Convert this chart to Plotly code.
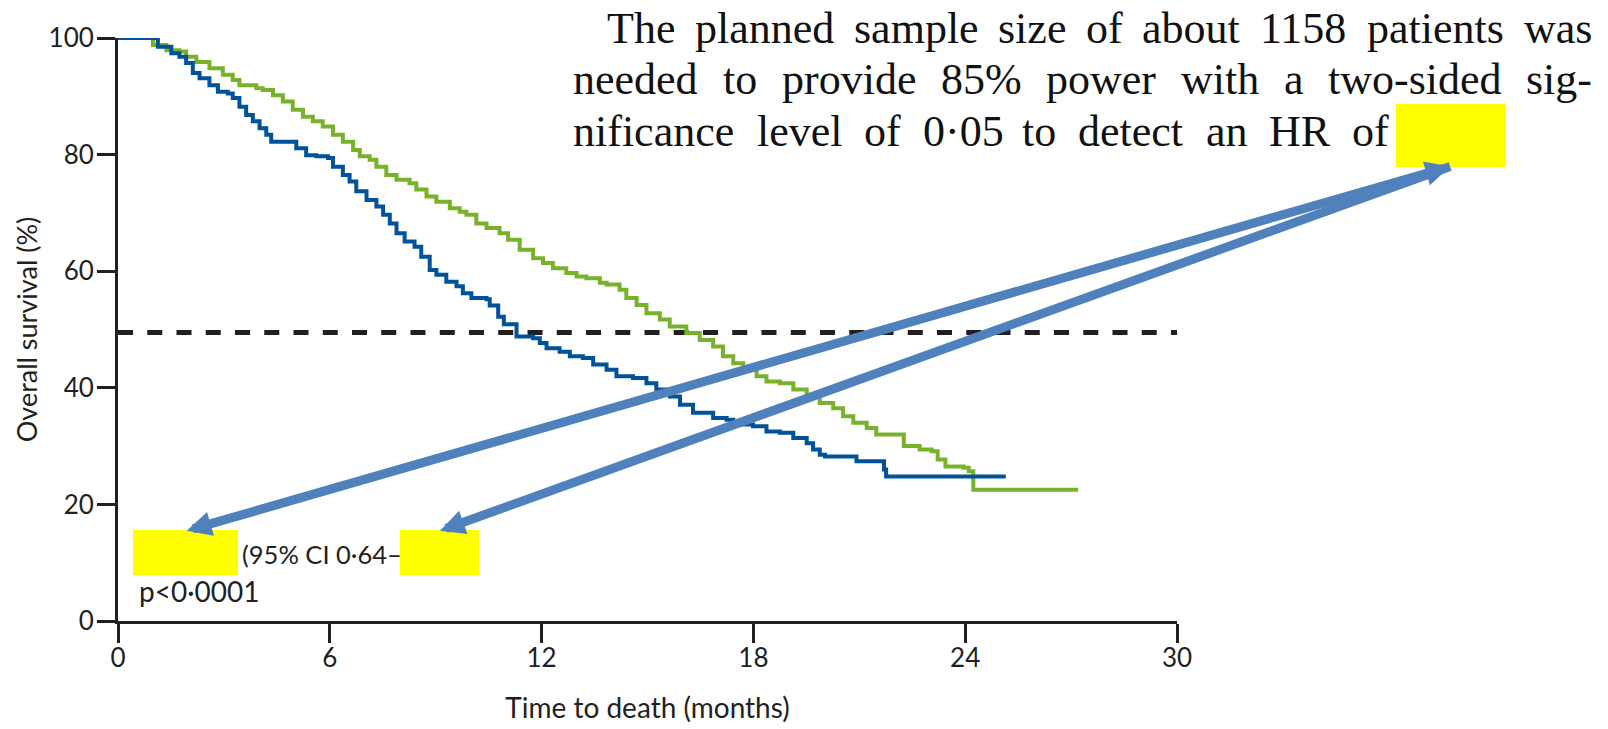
import plotly.graph_objects as go

# ---------------- data ----------------
blue_t = [0, 0.85, 1.13, 1.51, 1.74, 1.93, 2.12, 2.31, 2.59, 2.83, 3.11, 3.25, 3.44, 3.63,
          3.82, 4.01, 4.20, 4.34, 5.05, 5.33, 5.62, 5.95, 6.09, 6.37, 6.56, 6.75, 7.04,
          7.32, 7.51, 7.70, 7.89, 8.12, 8.40, 8.59, 8.83, 9.02, 9.30, 9.59, 9.77, 10.01,
          10.44, 10.53, 10.77, 10.93, 11.29, 11.76, 11.95, 12.14, 12.51, 12.80, 13.17,
          13.46, 13.84, 14.12, 14.59, 14.97, 15.25, 15.63, 15.92, 16.29, 16.86, 17.24,
          17.43, 17.99, 18.37, 18.75, 19.13, 19.51, 19.69, 19.88, 20.03, 20.92, 21.70,
          21.76, 25.15]
blue_s = [100, 100, 98.5, 97.4, 96.8, 95.7, 94.0, 93.1, 91.9, 90.8, 90.5, 89.7, 88.2, 86.8,
          85.7, 84.5, 83.4, 82.2, 81.1, 79.9, 79.7, 79.4, 77.9, 76.5, 75.4, 73.7, 72.2,
          71.1, 69.7, 68.2, 66.5, 65.1, 64.2, 62.5, 60.2, 59.4, 58.2, 57.4, 56.2, 55.4,
          55.2, 54.1, 52.2, 50.9, 48.8, 48.5, 47.7, 46.8, 46.2, 45.4, 45.1,
          44.0, 43.1, 42.0, 41.7, 40.8, 39.7, 38.5, 37.1, 35.7, 34.8, 34.5,
          33.7, 33.4, 32.5, 32.3, 31.4, 30.5, 29.4, 28.5, 28.2, 27.4, 26.0,
          24.8, 24.8]

green_t = [0, 0.66, 0.99, 1.37, 1.74, 1.93, 2.22, 2.59, 2.97, 3.25, 3.44, 3.92, 4.10, 4.39,
           4.67, 4.95, 5.24, 5.52, 5.80, 6.09, 6.37, 6.66, 6.85, 7.13, 7.32, 7.60, 7.89,
           8.26, 8.45, 8.74, 9.02, 9.40, 9.68, 9.87, 10.15, 10.44, 10.81, 11.05, 11.38,
           11.76, 12.04, 12.32, 12.70, 12.99, 13.27, 13.65, 13.84, 14.21, 14.40, 14.69,
           14.97, 15.35, 15.63, 16.10, 16.48, 16.86, 17.14, 17.43, 17.71, 18.09, 18.37,
           18.75, 19.13, 19.51, 19.88, 20.26, 20.54, 20.83, 21.21, 21.48, 22.26, 22.71,
           23.05, 23.22, 23.44, 23.95, 24.10, 24.23, 27.20]
green_s = [100, 100, 98.8, 97.9, 97.7, 96.8, 95.9, 94.8, 93.7, 92.8, 91.9, 91.4, 91.1, 90.2,
           89.1, 87.7, 86.5, 85.7, 84.8, 83.4, 82.2, 80.8, 79.7, 79.1, 77.9, 76.5, 75.7,
           75.1, 74.0, 72.8, 71.9, 70.8, 70.2, 69.7, 68.2, 67.4, 66.5, 65.4, 63.7,
           62.2, 61.4, 60.5, 59.7, 59.1, 58.8, 58.0, 57.7, 56.8, 55.4, 54.2,
           52.8, 51.7, 50.5, 49.4, 48.2, 47.1, 45.4, 44.2, 43.1, 42.0, 41.1,
           40.8, 39.7, 38.8, 37.4, 36.5, 35.1, 34.0, 33.1, 32.0, 30.0, 29.4,
           29.1, 27.7, 26.5, 26.3, 25.7, 22.5, 22.5]

x_ticks = [0, 6, 12, 18, 24, 30]
y_ticks = [0, 20, 40, 60, 80, 100]
x_range = [0, 30]
y_range = [0, 100]
median_level = 49.5
median_line_x = [0, 30.25]

x_title = "Time to death (months)"
y_title = "Overall survival (%)"
paragraph_lines = [
    ["The", "planned", "sample", "size", "of", "about", "1158", "patients", "was"],
    ["needed", "to", "provide", "85%", "power", "with", "a", "two-sided", "sig-"],
    ["nificance", "level", "of", "0·05", "to", "detect", "an", "HR", "of"],
]
ci_text = "(95% CI 0·64–"
p_text = "p<0·0001"

# ---------------- layout helpers ----------------
W, H = 1608, 729
L, R, T, B = 118, 1177, 38, 621

def px(X):
    return (X - L) / (R - L)

def py(Y):
    return (B - Y) / (B - T)

BLUE = "#00529B"
GREEN = "#78B22A"
ARROW = "#4F81BD"
INK = "#231F20"
SERIF = "Liberation Serif"
SANS = "Lato"

fig = go.Figure()
# dashed median line
fig.add_trace(go.Scatter(x=median_line_x, y=[median_level] * len(median_line_x), mode="lines",
                         line=dict(color=INK, width=5, dash="15px,14.25px"),
                         cliponaxis=False, showlegend=False, hoverinfo="skip"))
fig.add_trace(go.Scatter(x=green_t, y=green_s, mode="lines", line=dict(color=GREEN, width=4, shape="hv"),
                         cliponaxis=False, showlegend=False, hoverinfo="skip"))
fig.add_trace(go.Scatter(x=blue_t, y=blue_s, mode="lines", line=dict(color=BLUE, width=4, shape="hv"),
                         cliponaxis=False, showlegend=False, hoverinfo="skip"))

shapes = []
# yellow highlight boxes
for (x0, y0, x1, y1) in [(1396, 104, 1506, 167), (133, 530, 238, 575), (400, 530, 479, 575)]:
    shapes.append(dict(type="rect", xref="paper", yref="paper", x0=px(x0), x1=px(x1), y0=py(y1), y1=py(y0),
                       fillcolor="#FFFF00", line=dict(width=0), layer="above"))

# Times/Liberation Serif advance widths (per 1000 em) for justification
TW = {' ': 250, '%': 833, '-': 333, '·': 250, 'H': 722, 'R': 667, 'T': 611,
      'a': 444, 'b': 500, 'c': 444, 'd': 500, 'e': 444, 'f': 333, 'g': 500, 'h': 500, 'i': 278,
      'l': 278, 'm': 778, 'n': 500, 'o': 500, 'p': 500, 'r': 333, 's': 389, 't': 278, 'u': 500,
      'v': 500, 'w': 722, 'z': 444}

def tw(word, size):
    return sum(TW.get(c, 500) for c in word) / 1000.0 * size

FS = 44
line_specs = [(606.7, 1592, 43.5), (573.3, 1592, 94.0), (573.3, 1389, 146.7)]
annotations = []
for words, (xs, xe, base) in zip(paragraph_lines, line_specs):
    widths = [tw(w, FS) for w in words]
    gap = (xe - xs - sum(widths)) / (len(words) - 1)
    xcur = xs
    for w, wd in zip(words, widths):
        annotations.append(dict(text=w, x=px(xcur - 2), y=py(base - 15), xref="paper", yref="paper",
                                xanchor="left", yanchor="middle", showarrow=False,
                                font=dict(family=SERIF, size=FS, color="#111111")))
        xcur += wd + gap

annotations.append(dict(text=ci_text, x=px(240), y=py(554), xref="paper", yref="paper",
                        xanchor="left", yanchor="middle", showarrow=False,
                        font=dict(family=SANS, size=25.5, color=INK)))
annotations.append(dict(text=p_text, x=px(137), y=py(591), xref="paper", yref="paper",
                        xanchor="left", yanchor="middle", showarrow=False,
                        font=dict(family=SANS, size=28, color=INK)))

# arrows from the HR box to the two highlighted values
top_tip = (1451.7, 166)
for (hx, hy), both in [((186.7, 530.7), True), ((440, 530.7), False)]:
    a = dict(text="", x=px(hx), y=py(hy), xref="paper", yref="paper",
             ax=top_tip[0] - hx, ay=top_tip[1] - hy, axref="pixel", ayref="pixel",
             showarrow=True, arrowhead=2, arrowsize=0.55, arrowwidth=9, arrowcolor=ARROW,
             standoff=0)
    if both:
        a.update(arrowside="end+start", startarrowhead=2, startarrowsize=0.55, startstandoff=0)
    annotations.append(a)

fig.update_layout(
    width=W, height=H,
    margin=dict(l=L, r=W - R, t=T, b=H - B, pad=0, autoexpand=False),
    paper_bgcolor="white", plot_bgcolor="white",
    shapes=shapes, annotations=annotations,
    xaxis=dict(range=x_range, tickvals=x_ticks, ticks="outside", ticklen=19, tickwidth=3,
               tickcolor=INK, showline=True, linewidth=3, linecolor=INK, showgrid=False,
               zeroline=False, tickfont=dict(family=SANS, size=26, color=INK), ticklabelstandoff=-7,
               automargin=False,
               title=dict(text=x_title, font=dict(family=SANS, size=28, color=INK), standoff=27)),
    yaxis=dict(range=y_range, tickvals=y_ticks, ticks="outside", ticklen=18, tickwidth=3,
               tickcolor=INK, showline=True, linewidth=3, linecolor=INK, showgrid=False,
               zeroline=False, tickfont=dict(family=SANS, size=26, color=INK), ticklabelstandoff=-2,
               automargin=False,
               title=dict(text=y_title, font=dict(family=SANS, size=27, color=INK), standoff=4)),
)

fig.write_html("out.html")
